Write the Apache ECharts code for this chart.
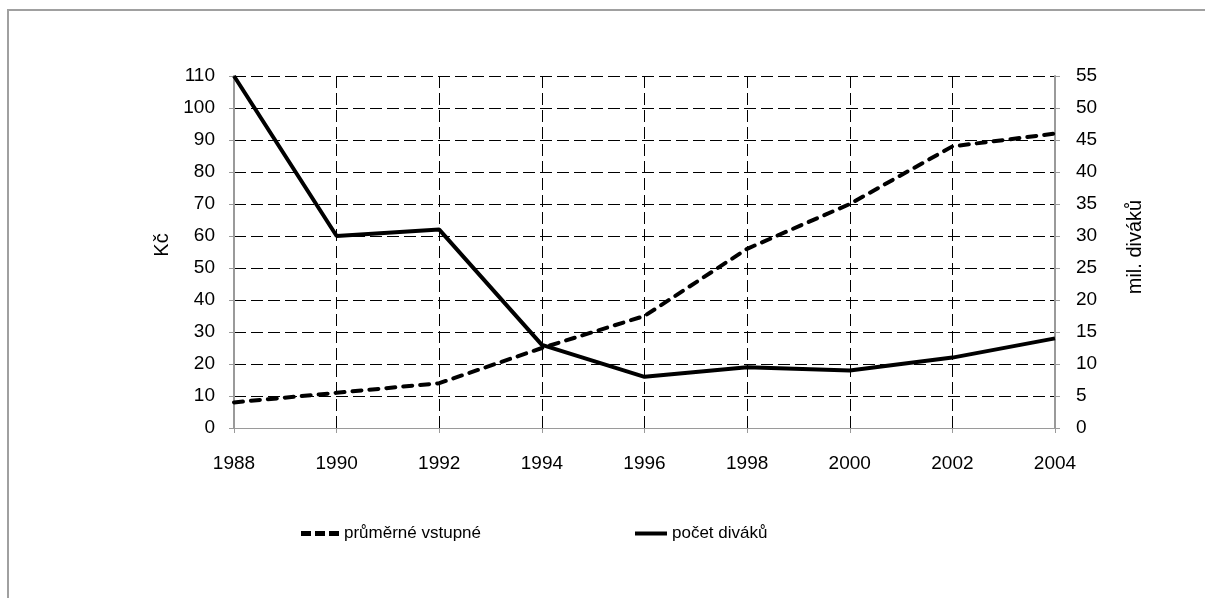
<!DOCTYPE html>
<html>
<head>
<meta charset="utf-8">
<script src="https://cdn.jsdelivr.net/npm/echarts@6/dist/echarts.min.js"></script>
<style>
html,body{margin:0;padding:0;background:#fff;overflow:hidden;}
#frame{position:absolute;left:7px;top:9px;width:1300px;height:700px;border-left:2px solid #a0a0a0;border-top:2px solid #a0a0a0;}
#chart{position:absolute;left:0;top:0;width:1205px;height:598px;}
</style>
</head>
<body>
<div id="frame"></div>
<div id="chart"></div>
<script>
const years = ['1988','1990','1992','1994','1996','1998','2000','2002','2004'];
const vstupne = [8, 11, 14, 25, 35, 56, 70, 88, 92];          // Kč (left axis)
const divaci = [55, 30, 31, 13, 8, 9.5, 9, 11, 14];           // mil. diváků (right axis)
const seriesNames = ['průměrné vstupné', 'počet diváků'];
const leftAxisName = 'Kč';
const rightAxisName = 'mil. diváků';

const font = 'Liberation Sans, Arial, sans-serif';
const chart = echarts.init(document.getElementById('chart'));
chart.setOption({
  backgroundColor: 'transparent',
  animation: false,
  grid: {left: 234, right: 150, top: 76, bottom: 170},
  legend: [
    {data: [{name: seriesNames[0], icon: 'path://M0,0h10v5h-10z M14,0h10v5h-10z M28,0h10v5h-10z'}],
     left: 296, top: 520, itemWidth: 38, itemHeight: 5,
     textStyle: {fontFamily: font, fontSize: 17, color: '#000'}},
    {data: [{name: seriesNames[1], icon: 'rect'}],
     left: 630, top: 520, itemWidth: 32, itemHeight: 4,
     textStyle: {fontFamily: font, fontSize: 17, color: '#000'}}
  ],
  xAxis: {
    type: 'category', data: years, boundaryGap: false,
    axisLine: {lineStyle: {color: '#9a9a9a', width: 1}},
    axisTick: {show: true, length: 5, lineStyle: {color: '#9a9a9a'}},
    axisLabel: {margin: 26, fontFamily: font, fontSize: 19, color: '#000'},
    splitLine: {show: true, lineStyle: {color: '#000', width: 1, type: [12, 5]}}
  },
  yAxis: [
    {type: 'value', min: 0, max: 110, interval: 10, position: 'left',
     name: leftAxisName, nameLocation: 'middle', nameGap: 62, nameRotate: 90,
     nameMoveOverlap: false,
     nameTextStyle: {fontFamily: font, fontSize: 20, color: '#000', padding: [0, 0, 0, 14]},
     axisLine: {show: true, lineStyle: {color: '#9a9a9a', width: 2}},
     axisTick: {show: true, length: 5, lineStyle: {color: '#9a9a9a'}},
     axisLabel: {margin: 19, fontFamily: font, fontSize: 19, color: '#000'},
     splitLine: {show: true, lineStyle: {color: '#000', width: 1, type: [12, 5]}}},
    {type: 'value', min: 0, max: 55, interval: 5, position: 'right',
     name: rightAxisName, nameLocation: 'middle', nameGap: 70, nameRotate: 90,
     nameMoveOverlap: false,
     nameTextStyle: {fontFamily: font, fontSize: 20, color: '#000', padding: [0, 0, 0, 10]},
     axisLine: {show: true, lineStyle: {color: '#9a9a9a', width: 2}},
     axisTick: {show: true, length: 5, lineStyle: {color: '#9a9a9a'}},
     axisLabel: {margin: 21, fontFamily: font, fontSize: 19, color: '#000'},
     splitLine: {show: false}}
  ],
  series: [
    {name: seriesNames[0], type: 'line', yAxisIndex: 0, data: vstupne, symbol: 'none',
     itemStyle: {color: '#000'},
     lineStyle: {color: '#000', width: 4, type: [9, 8], cap: 'round'}},
    {name: seriesNames[1], type: 'line', yAxisIndex: 1, data: divaci, symbol: 'none',
     itemStyle: {color: '#000'},
     lineStyle: {color: '#000', width: 4, type: 'solid'}}
  ]
});
</script>
</body>
</html>
